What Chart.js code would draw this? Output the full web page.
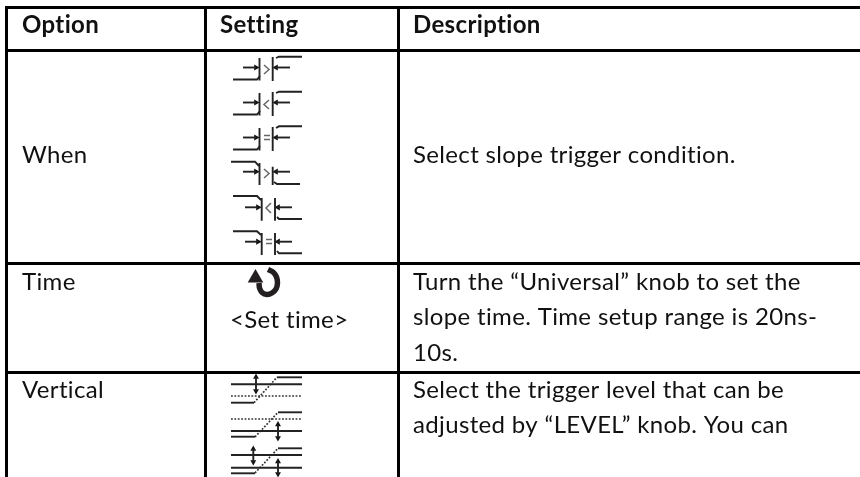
<!DOCTYPE html>
<html><head><meta charset="utf-8">
<style>html,body{margin:0;padding:0;background:#fff}canvas{display:block}</style>
<script src="https://cdn.jsdelivr.net/npm/chart.js@4"></script>
</head><body><canvas id="c" width="860" height="477"></canvas>
<script>
// table rules (grid lines)
const columnRules=[6,205.5,398.5];
const rowRules=[7.5,50.5,263.5,372.5];
// texts
const headerTexts=["Option","Setting","Description"];
const headerX=[22,220,413];
const bodyTexts=["When","Select slope trigger condition.","Time","<Set time>","Turn the \u201cUniversal\u201d knob to set the","slope time. Time setup range is 20ns-","10s.","Vertical","Select the trigger level that can be","adjusted by \u201cLEVEL\u201d knob. You can"];
const bodyX=[22,413,22,230,413,413,413,22,413,413];
const bodyY=[163,163,290,328,290,325,361,398,398,433];
// solid glyph strokes
const solidStrokes=[
 // > (row 1)
 [[233,79.5],[257,79.5],[260,76]],[[259.5,58],[259.5,80.5]],[[243,67.5],[256,67.5]],[[272.7,57],[272.7,81]],[[276,58],[279,56.7],[302,56.7]],[[275,67.5],[290,67.5]],
 // < (row 2)
 [[233,114.5],[257,114.5],[260,111]],[[259.5,93],[259.5,115.5]],[[243,102.5],[256,102.5]],[[272.7,92],[272.7,116]],[[276,93],[279,91.7],[302,91.7]],[[275,102.5],[290,102.5]],
 // = (row 3)
 [[233,149.5],[257,149.5],[260,146]],[[259.5,128],[259.5,150.5]],[[243,137.5],[256,137.5]],[[272.7,127],[272.7,151]],[[276,128],[279,126.3],[302,126.3]],[[275,137.5],[290,137.5]],
 // > falling (row 4)
 [[231,161.7],[255,161.7],[259,166]],[[259.5,163],[259.5,185]],[[243,171.7],[256,171.7]],[[272.7,166.7],[272.7,185]],[[274,182],[277,184],[300,184]],[[275,171.7],[290,171.7]],
 // < falling (row 5)
 [[233,196],[257,196],[261,200]],[[261.7,198],[261.7,220.7]],[[245,207.3],[258,207.3]],[[275,198],[275,220.7]],[[277,217],[279,219],[302,219]],[[277,207.3],[292,207.3]],
 // = falling (row 6)
 [[233,231.3],[257,231.3],[261,235]],[[261.7,233],[261.7,255]],[[245,241.7],[258,241.7]],[[275,233],[275,255]],[[277,251],[279,253.3],[302,253.3]],[[277,241.7],[292,241.7]],
 // vertical icon A
 [[231,402.7],[254,402.7]],[[231,384.3],[302,384.3]],[[277,377.3],[302,377.3]],[[256,377],[256,391]],
 // vertical icon B
 [[278,412.3],[302,412.3]],[[231,431],[302,431]],[[231,436.7],[255,436.7]],[[278,425],[278,438]],
 // vertical icon C
 [[278,448.3],[302,448.3]],[[231,455],[302,455]],[[231,467.7],[302,467.7]],[[231,473.3],[255,473.3]],[[253.3,449],[253.3,462]],[[278,461.5],[278,474]]
];
// comparison signs
const signStrokes=[
 [[264,65],[269,69.5],[264,74]],[[269,100],[264,104.5],[269,109]],
 [[264,135.5],[270,135.5]],[[264,139.5],[270,139.5]],
 [[264,169],[269,173.5],[264,178]],[[271,203],[266,208],[271,213]],
 [[266,239.5],[272,239.5]],[[266,243.5],[272,243.5]]
];
// dotted strokes
const dottedStrokes=[
 [[231,396],[302,396]],[[254,402.7],[277,377.3]],
 [[231,419],[302,419]],[[255,437],[278,412.3]],
 [[255,473],[278,448.3]]
];
// arrow heads
const headsRight=[[256,67.5],[256,102.5],[256,137.5],[256,171.7],[258,207.3],[258,241.7]];
const headsLeft=[[276,67.5],[276,102.5],[276,137.5],[276,171.7],[278,207.3],[278,241.7]];
const headsUp=[[256,377],[278,424.5],[253.3,449],[278,461.5]];
const headsDown=[[256,391],[278,438],[253.3,462],[278,474]];
// knob icon
const knobArc=[[268,269.5],[273,272],[276.5,277],[277.5,283],[276,289],[272,293],[267,294.5],[262,292.5],[259.5,288],[259,283]];
const knobHead=[[255.5,278]];

const pts=a=>a.map(p=>({x:p[0],y:p[1]}));
const lineDs=(a,color,w,dash)=>({type:'scatter',showLine:true,data:pts(a),borderColor:color,borderWidth:w,borderDash:dash||[],pointRadius:0,fill:false,tension:0,borderCapStyle:'butt'});
const headDs=(a,rot,r)=>({type:'scatter',showLine:false,data:pts(a),pointStyle:'triangle',pointRotation:rot,pointRadius:r,backgroundColor:'#111',borderColor:'#111',borderWidth:0});
const datasets=[
 ...solidStrokes.map(s=>lineDs(s,'#222',1.9)),
 ...signStrokes.map(s=>lineDs(s,'#666',1.5)),
 ...dottedStrokes.map(s=>lineDs(s,'#333',1.7,[1.8,1.6])),
 headDs(headsRight,90,3.6),headDs(headsLeft,-90,3.6),headDs(headsUp,0,3.4),headDs(headsDown,180,3.4),
 Object.assign(lineDs(knobArc,'#231f20',5.5),{borderJoinStyle:'round',tension:0.3}),
 Object.assign(headDs(knobHead,0,9),{backgroundColor:'#231f20',borderColor:'#231f20'})
];
const tableText={id:'tableText',afterDatasetsDraw(chart){
 const c=chart.ctx,xs=chart.scales.x,ys=chart.scales.y;
 c.save();c.fillStyle='#111';c.textBaseline='alphabetic';c.textAlign='left';c.letterSpacing='0.35px';
 c.font='bold 24px Lato';
 headerTexts.forEach((t,i)=>c.fillText(t,xs.getPixelForValue(headerX[i]),ys.getPixelForValue(33)));
 c.font='24px Lato';
 bodyTexts.forEach((t,i)=>c.fillText(t,xs.getPixelForValue(bodyX[i]),ys.getPixelForValue(bodyY[i])));
 c.restore();
}};
new Chart(document.getElementById('c'),{
 type:'scatter',data:{datasets},plugins:[tableText],
 options:{responsive:false,animation:false,events:[],
  layout:{autoPadding:false,padding:{left:5,top:6,right:0,bottom:0}},
  plugins:{legend:{display:false},tooltip:{enabled:false},title:{display:false}},
  scales:{
   x:{type:'linear',min:5,max:860,border:{display:false},ticks:{display:false},
      afterBuildTicks(a){a.ticks=columnRules.map(v=>({value:v}))},
      grid:{color:'#000',lineWidth:3,drawTicks:false}},
   y:{type:'linear',min:6,max:477,reverse:true,border:{display:false},ticks:{display:false},
      afterBuildTicks(a){a.ticks=rowRules.map(v=>({value:v}))},
      grid:{color:'#000',lineWidth:3,drawTicks:false}}
  }}
});
</script></body></html>
